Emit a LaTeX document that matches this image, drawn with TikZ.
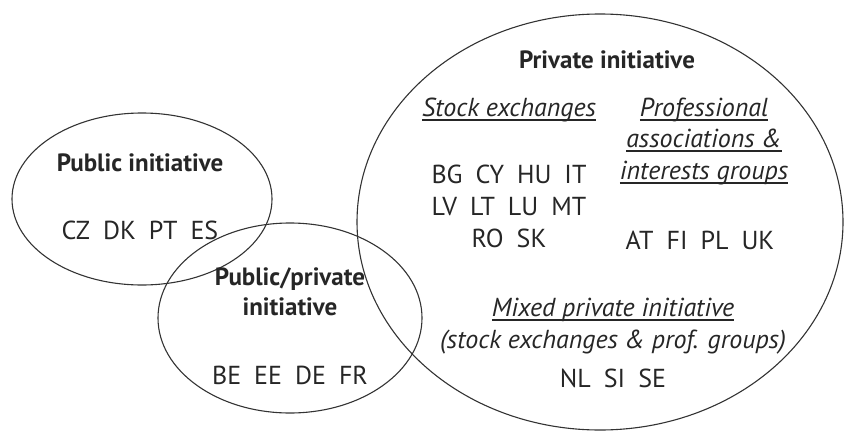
\documentclass[tikz,border=0pt]{standalone}
\usepackage{fontspec}
\setmainfont{PT Sans}
\usetikzlibrary{shapes.geometric}
\newcommand\myul[1]{\setbox0\hbox{#1}\rlap{\rule[-4.5pt]{\wd0}{1.7pt}}\box0}
\begin{document}
\begin{tikzpicture}[x=1pt,y=-1pt,
  ring/.style={draw=black!80,line width=1.1pt,ellipse,inner sep=0pt},
  title/.style={font=\fontsize{25}{30}\selectfont\bfseries,text=black!85,align=center},
  lbl/.style={font=\fontsize{26}{32}\selectfont,text=black!85,align=center},
  ilbl/.style={font=\fontsize{26}{31.5}\selectfont\itshape,text=black!85,align=center}]
\useasboundingbox (0,0) rectangle (846,431);
\node[ring,minimum width=260pt,minimum height=172pt] (pub) at (142,199) {};
\node[ring,minimum width=264pt,minimum height=190pt] (pp) at (290,318) {};
\node[ring,minimum width=486pt,minimum height=416pt] (priv) at (600,222) {};
% public
\node[title] (pubt) at (140,163) {Public initiative};
\node[lbl] (pubc) at (140,230) {CZ\enspace DK\enspace PT\enspace ES};
% public/private
\node[title,font=\fontsize{25}{30}\selectfont\bfseries] (ppt) at (290,292) {Public/private\\initiative};
\node[lbl] (ppc) at (290,375) {BE\enspace EE\enspace DE\enspace FR};
% private
\node[title] (privt) at (607,60) {Private initiative};
\node[ilbl] (stock) at (509,110) {\myul{Stock exchanges}};
\node[ilbl] (prof) at (704,141) {\myul{Professional}\\\myul{associations \&}\\\myul{interests groups}};
\node[lbl] (stockc) at (509,206) {BG\enspace CY\enspace HU\enspace IT\\LV\enspace LT\enspace LU\enspace MT\\RO\enspace SK};
\node[lbl] (profc) at (700,240) {AT\enspace FI\enspace PL\enspace UK};
\node[ilbl] (mixed) at (613,326) {\myul{Mixed private initiative}\\(stock exchanges \& prof. groups)};
\node[lbl] (mixedc) at (613,378) {NL\enspace SI\enspace SE};
\end{tikzpicture}
\end{document}
